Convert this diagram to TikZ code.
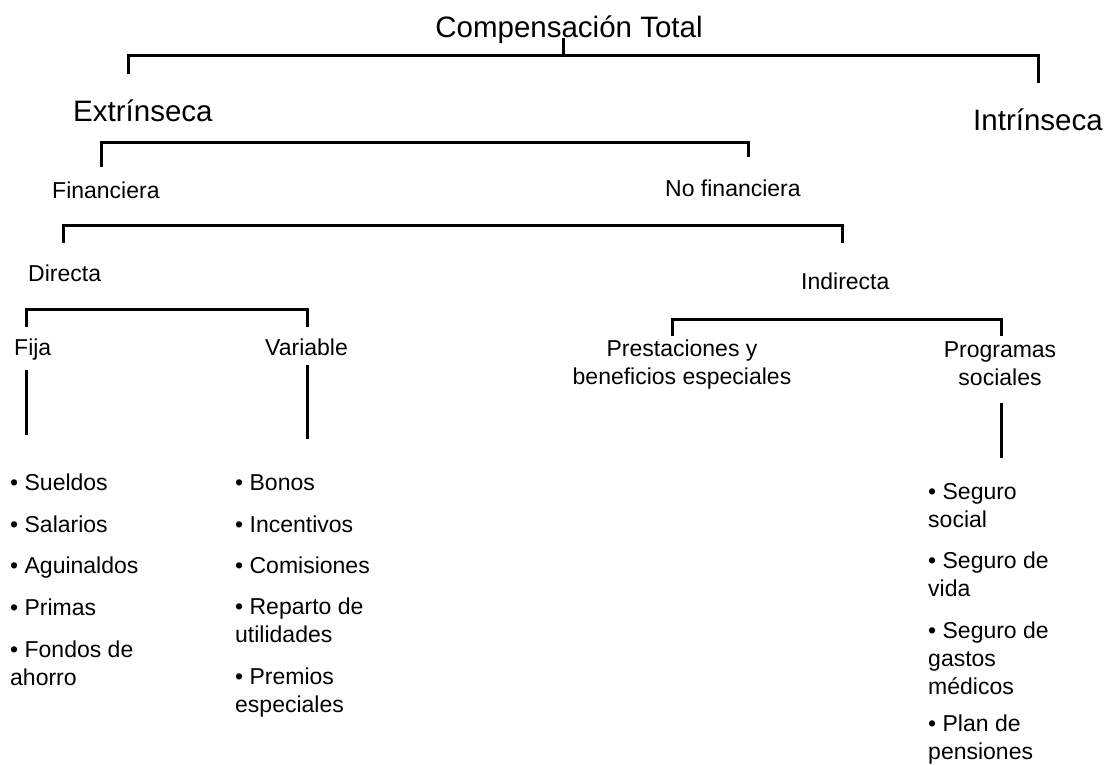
\documentclass[tikz,border=0pt]{standalone}
\usepackage{fontspec}
\setmainfont{Liberation Sans}
\begin{document}
\begin{tikzpicture}[x=1pt,y=-1pt,
  bar/.style={line width=3pt, line join=miter},
  big/.style={font=\fontsize{29.5}{34}\selectfont, inner sep=0pt},
  mid/.style={font=\fontsize{23}{28}\selectfont, inner sep=0pt},
  item/.style={font=\fontsize{23}{28}\selectfont, inner sep=0pt, align=left, anchor=base west},
]
\useasboundingbox (0,0) rectangle (1105,765);

% level labels (multi-line nodes sit on the baseline of their last line)
\node[big, anchor=base] (total) at (569,37.5) {Compensación Total};
\node[big, anchor=base west] (ext) at (73,122) {Extrínseca};
\node[big, anchor=base west] (int) at (973,131) {Intrínseca};
\node[mid, anchor=base west] (fin) at (52,198) {Financiera};
\node[mid, anchor=base west] (nofin) at (665,196) {No financiera};
\node[mid, anchor=base west] (dir) at (28,281) {Directa};
\node[mid, anchor=base west] (ind) at (801,289) {Indirecta};
\node[mid, anchor=base west] (fija) at (14,355) {Fija};
\node[mid, anchor=base west] (var) at (265,355) {Variable};
\node[mid, align=center, anchor=base] (prest) at (682,384) {Prestaciones y\\beneficios especiales};
\node[mid, align=center, anchor=base] (prog) at (1000,385) {Programas\\sociales};

% fixed pay
\node[item] (sueldos) at (10,490) {• Sueldos};
\node[item] (salarios) at (10,532) {• Salarios};
\node[item] (aguinaldos) at (10,573) {• Aguinaldos};
\node[item] (primas) at (10,615) {• Primas};
\node[item] (fondos) at (10,685) {• Fondos de\\ahorro};

% variable pay
\node[item] (bonos) at (235,490) {• Bonos};
\node[item] (incentivos) at (235,532) {• Incentivos};
\node[item] (comisiones) at (235,573) {• Comisiones};
\node[item] (reparto) at (235,642) {• Reparto de\\utilidades};
\node[item] (premios) at (235,712) {• Premios\\especiales};

% social programmes
\node[item] (ssocial) at (928,527) {• Seguro\\social};
\node[item] (svida) at (928,596) {• Seguro de\\vida};
\node[item] (smedicos) at (928,694) {• Seguro de\\gastos\\médicos};
\node[item] (plan) at (928,759) {• Plan de\\pensiones};

% bracket connectors
\coordinate (t0) at (563,38);  \coordinate (t1) at (563,56);
\coordinate (tL) at (128,74);  \coordinate (tR) at (1038,83);
\draw[bar] (t0) -- (t1);
\draw[bar] (tL) |- (t1) -| (tR);

\coordinate (eL) at (101,167); \coordinate (eR) at (748,157);
\draw[bar] (eL) |- (424,142) -| (eR);

\coordinate (fL) at (63,243);  \coordinate (fR) at (842,243);
\draw[bar] (fL) |- (450,225) -| (fR);

\coordinate (dL) at (26,327);  \coordinate (dR) at (307,327);
\draw[bar] (dL) |- (166,309) -| (dR);

\coordinate (iL) at (672,336); \coordinate (iR) at (1001,336);
\draw[bar] (iL) |- (836,319) -| (iR);

% stems down to the item lists
\coordinate (fa) at (26,370);   \coordinate (fb) at (26,435);
\coordinate (va) at (307,365);  \coordinate (vb) at (307,439);
\coordinate (pa) at (1001,403); \coordinate (pb) at (1001,458);
\draw[bar] (fa) -- (fb);
\draw[bar] (va) -- (vb);
\draw[bar] (pa) -- (pb);
\end{tikzpicture}
\end{document}
